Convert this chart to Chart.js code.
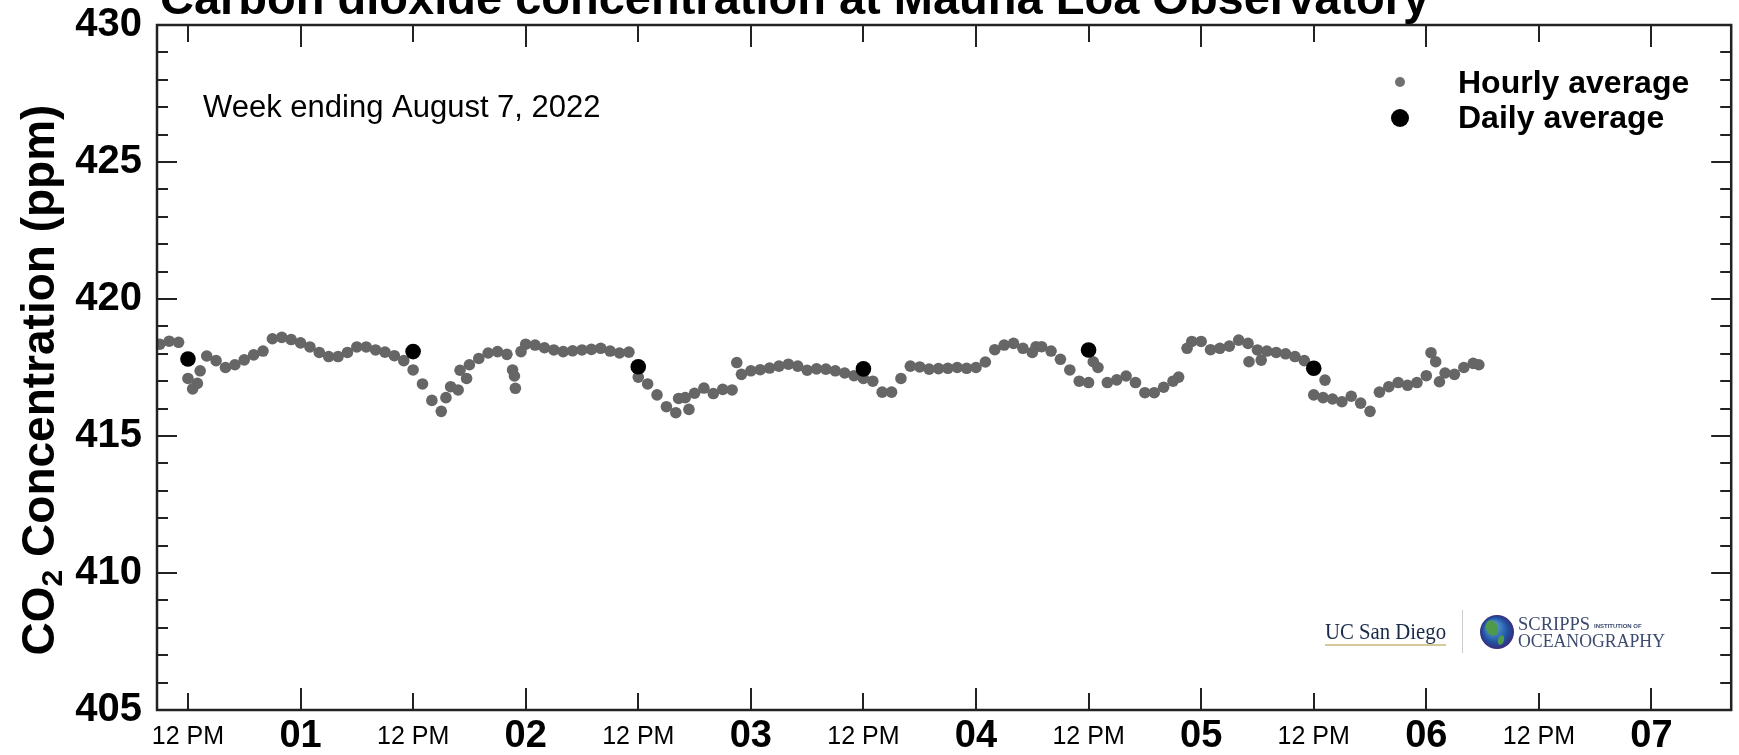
<!DOCTYPE html>
<html>
<head>
<meta charset="utf-8">
<title>Carbon dioxide concentration at Mauna Loa Observatory</title>
<script src="https://cdn.jsdelivr.net/npm/chart.js@4.4.1/dist/chart.umd.min.js"></script>
<style>
  html, body { margin: 0; padding: 0; background: #fff; }
  #co2Chart { display: block; }
</style>
</head>
<body>
<canvas id="co2Chart" width="1739" height="755"></canvas>
<script>
// x values are hours counted from July 31, 2022 00:00
const hourlyHours = [
    9, 10, 11, 12, 12.5, 13, 13.3, 14, 15, 16, 17, 18, 19, 20, 21, 22, 23,
    24, 25, 26, 27, 28, 29, 30, 31, 32, 33, 34, 35, 36, 37, 38, 39, 39.5, 40, 40.8, 41, 41.7,
    42, 43, 44, 45, 46, 46.6, 46.8, 46.9, 47.5, 48, 49, 50, 51, 52, 53, 54, 55, 56, 57, 58, 59,
    60, 61, 62, 63, 64, 64.3, 65, 65.4, 66, 67, 68, 69, 70, 70.5, 71, 72, 73, 74, 75, 76, 77, 78,
    79, 80, 81, 82, 83, 84, 85, 86, 87, 88, 89, 90, 91, 92, 93, 94, 95, 96, 97, 98, 99, 100,
    101, 102, 102.4, 103, 104, 105, 106, 107, 108, 108.5, 109, 110, 111, 112, 113, 114, 115, 116, 117, 117.6,
    118.5, 119, 120, 121, 122, 123, 124, 125, 125.1, 126, 126.4, 127, 128, 129, 130, 131,
    132, 133, 133.2, 134, 135, 136, 137, 138, 139, 140, 141, 142, 143, 144, 144.5, 145, 145.4,
    146, 147, 148, 149, 149.6
];
const hourlyPpm = [
    418.35, 418.46, 418.42, 417.10, 416.72, 416.92, 417.38, 417.92, 417.75, 417.50, 417.60, 417.78, 417.96, 418.10, 418.55, 418.60, 418.52,
    418.40, 418.25, 418.05, 417.90, 417.90, 418.05, 418.25, 418.25, 418.14, 418.06, 417.93, 417.75, 417.41, 416.90, 416.30, 415.90, 416.40, 416.80, 416.68, 417.40, 417.10,
    417.60, 417.83, 418.03, 418.08, 417.98, 417.41, 417.19, 416.74, 418.08, 418.35, 418.32, 418.22, 418.14, 418.08, 418.11, 418.14, 418.16, 418.20, 418.10, 418.03, 418.06,
    417.15, 416.90, 416.50, 416.07, 415.85, 416.37, 416.40, 415.97, 416.56, 416.75, 416.55, 416.70, 416.68, 417.68, 417.25, 417.38, 417.42, 417.48, 417.55, 417.62, 417.55, 417.40,
    417.45, 417.44, 417.38, 417.30, 417.20, 417.10, 417.00, 416.60, 416.60, 417.10, 417.55, 417.52, 417.44, 417.46, 417.47, 417.50, 417.47, 417.50, 417.70, 418.15, 418.32, 418.38,
    418.20, 418.05, 418.26, 418.26, 418.10, 417.80, 417.41, 417.00, 416.95, 417.71, 417.50, 416.95, 417.05, 417.19, 416.95, 416.58, 416.58, 416.78, 417.00, 417.15,
    418.20, 418.45, 418.45, 418.15, 418.20, 418.28, 418.50, 418.38, 417.71, 418.14, 417.77, 418.10, 418.05, 418.00, 417.90, 417.75,
    416.50, 416.40, 417.04, 416.35, 416.25, 416.45, 416.20, 415.90, 416.60, 416.80, 416.95, 416.85, 416.95, 417.20, 418.04, 417.71, 416.98,
    417.30, 417.25, 417.50, 417.65, 417.60
];
const dailyHours = [12, 36, 60, 84, 108, 132];
const dailyPpm = [417.81, 418.08, 417.53, 417.45, 418.14, 417.47];

const xTickHours = [12, 24, 36, 48, 60, 72, 84, 96, 108, 120, 132, 144, 156, 168];
const xTickLabels = ["12 PM", "01", "12 PM", "02", "12 PM", "03", "12 PM", "04", "12 PM", "05", "12 PM", "06", "12 PM", "07"];
const yTicks = [405, 410, 415, 420, 425, 430];

const SANS = "'Liberation Sans', Arial, Helvetica, sans-serif";
const NARROW = "'Liberation Sans Narrow', 'Arial Narrow', 'Liberation Sans', sans-serif";
const SERIF = "'Liberation Serif', 'Times New Roman', serif";

function toPoints(xs, ys) {
    return xs.map((h, i) => ({ x: h, y: ys[i] }));
}

// frame, inward ticks, title, legend, notes and logos
const decorations = {
    id: "decorations",
    afterDraw(chart) {
        const ctx = chart.ctx;
        const area = chart.chartArea;
        const xScale = chart.scales.x;
        const yScale = chart.scales.y;
        ctx.save();

        ctx.strokeStyle = "#222";
        ctx.lineWidth = 2.5;
        ctx.strokeRect(area.left, area.top, area.right - area.left, area.bottom - area.top);

        ctx.lineWidth = 2;
        ctx.beginPath();
        xTickHours.forEach(h => {
            const px = Math.round(xScale.getPixelForValue(h));
            const len = h % 24 === 0 ? 22 : 17;
            ctx.moveTo(px, area.bottom);
            ctx.lineTo(px, area.bottom - len);
            ctx.moveTo(px, area.top);
            ctx.lineTo(px, area.top + len);
        });
        for (let v = yTicks[0]; v <= yTicks[yTicks.length - 1]; v++) {
            const py = Math.round(yScale.getPixelForValue(v));
            const len = v % 5 === 0 ? 20 : 11;
            ctx.moveTo(area.left, py);
            ctx.lineTo(area.left + len, py);
            ctx.moveTo(area.right, py);
            ctx.lineTo(area.right - len, py);
        }
        ctx.stroke();

        // title sits partly above the canvas, as in the original
        ctx.fillStyle = "#000";
        ctx.textAlign = "left";
        ctx.textBaseline = "alphabetic";
        ctx.font = "bold 47px " + SANS;
        ctx.fillText("Carbon dioxide concentration at Mauna Loa Observatory", 160, 14);

        ctx.font = "31px " + SANS;
        ctx.fillText("Week ending August 7, 2022", 203, 117);

        // y axis title with subscript
        ctx.save();
        ctx.translate(54, 380);
        ctx.rotate(-Math.PI / 2);
        const bigFont = "bold 46px " + SANS;
        const smallFont = "bold 30px " + SANS;
        ctx.font = bigFont;
        const wCO = ctx.measureText("CO").width;
        const wRest = ctx.measureText(" Concentration (ppm)").width;
        ctx.font = smallFont;
        const w2 = ctx.measureText("2").width;
        let sx = -(wCO + w2 + wRest) / 2;
        ctx.font = bigFont;
        ctx.fillText("CO", sx, 0);
        sx += wCO;
        ctx.font = smallFont;
        ctx.fillText("2", sx, 8);
        sx += w2;
        ctx.font = bigFont;
        ctx.fillText(" Concentration (ppm)", sx, 0);
        ctx.restore();

        // legend
        ctx.fillStyle = "#707070";
        ctx.beginPath();
        ctx.arc(1400, 82, 5, 0, Math.PI * 2);
        ctx.fill();
        ctx.fillStyle = "#000";
        ctx.beginPath();
        ctx.arc(1400, 118, 9, 0, Math.PI * 2);
        ctx.fill();
        ctx.font = "bold 32px " + SANS;
        ctx.fillText("Hourly average", 1458, 93);
        ctx.fillText("Daily average", 1458, 128);

        // logos
        ctx.fillStyle = "#182B49";
        ctx.font = "24px " + SERIF;
        ctx.fillText("UC San Diego", 1325, 639, 121);
        ctx.strokeStyle = "#d6c99a";
        ctx.lineWidth = 2;
        ctx.beginPath();
        ctx.moveTo(1325, 645);
        ctx.lineTo(1446, 645);
        ctx.stroke();
        ctx.strokeStyle = "#cccccc";
        ctx.lineWidth = 1;
        ctx.beginPath();
        ctx.moveTo(1462.5, 610);
        ctx.lineTo(1462.5, 653);
        ctx.stroke();

        const globe = ctx.createRadialGradient(1492, 626, 3, 1497, 632, 17);
        globe.addColorStop(0, "#5aa0d8");
        globe.addColorStop(0.7, "#1f4fa0");
        globe.addColorStop(1, "#3b2c7a");
        ctx.fillStyle = globe;
        ctx.beginPath();
        ctx.arc(1497, 632, 17, 0, Math.PI * 2);
        ctx.fill();
        ctx.fillStyle = "#4f9a4a";
        ctx.beginPath();
        ctx.ellipse(1492, 628, 6, 8, -0.4, 0, Math.PI * 2);
        ctx.fill();
        ctx.beginPath();
        ctx.ellipse(1501, 640, 3, 5, 0.3, 0, Math.PI * 2);
        ctx.fill();

        ctx.fillStyle = "#3c4a6e";
        ctx.font = "19px " + SERIF;
        ctx.fillText("SCRIPPS", 1518, 630, 72);
        ctx.fillText("OCEANOGRAPHY", 1518, 647, 147);
        ctx.font = "bold 6px " + SANS;
        ctx.fillText("INSTITUTION OF", 1594, 628, 71);

        ctx.restore();
    }
};

const chart = new Chart(document.getElementById("co2Chart"), {
    type: "scatter",
    data: {
        datasets: [
            {
                label: "Daily average",
                data: toPoints(dailyHours, dailyPpm),
                backgroundColor: "#000",
                borderWidth: 0,
                pointRadius: 7.8
            },
            {
                label: "Hourly average",
                data: toPoints(hourlyHours, hourlyPpm),
                backgroundColor: "#666666",
                borderWidth: 0,
                pointRadius: 5.8
            }
        ]
    },
    options: {
        responsive: false,
        devicePixelRatio: 1,
        animation: false,
        layout: { padding: { top: 25, right: 7, left: 0, bottom: 0 } },
        plugins: {
            legend: { display: false },
            tooltip: { enabled: false },
            title: { display: false }
        },
        scales: {
            x: {
                type: "linear",
                min: 8.7,
                max: 176.5,
                grid: { display: false, drawTicks: false },
                border: { display: false },
                afterBuildTicks: scale => {
                    scale.ticks = xTickHours.map(h => ({ value: h }));
                },
                afterFit: scale => {
                    scale.height = 45;
                    scale.paddingLeft = 0;
                    scale.paddingRight = 0;
                },
                ticks: {
                    autoSkip: false,
                    maxRotation: 0,
                    padding: 4,
                    color: "#000",
                    font: ctx => {
                        const isDay = ctx.tick && ctx.tick.value % 24 === 0;
                        return isDay
                            ? { family: SANS, size: 38, weight: "bold", lineHeight: "46px" }
                            : { family: NARROW, size: 25, weight: "normal", lineHeight: "46px" };
                    },
                    callback: (value) => xTickLabels[xTickHours.indexOf(value)]
                }
            },
            y: {
                min: yTicks[0],
                max: yTicks[yTicks.length - 1],
                grid: { display: false, drawTicks: false },
                border: { display: false },
                afterBuildTicks: scale => {
                    scale.ticks = yTicks.map(v => ({ value: v }));
                },
                afterFit: scale => {
                    scale.width = 157;
                    // keep the 430 label from pushing the plot down
                    scale.paddingTop = 0;
                    scale.paddingBottom = 0;
                },
                ticks: {
                    padding: 15,
                    color: "#000",
                    font: { family: SANS, size: 40, weight: "bold" }
                }
            }
        }
    },
    plugins: [decorations]
});
</script>
</body>
</html>
